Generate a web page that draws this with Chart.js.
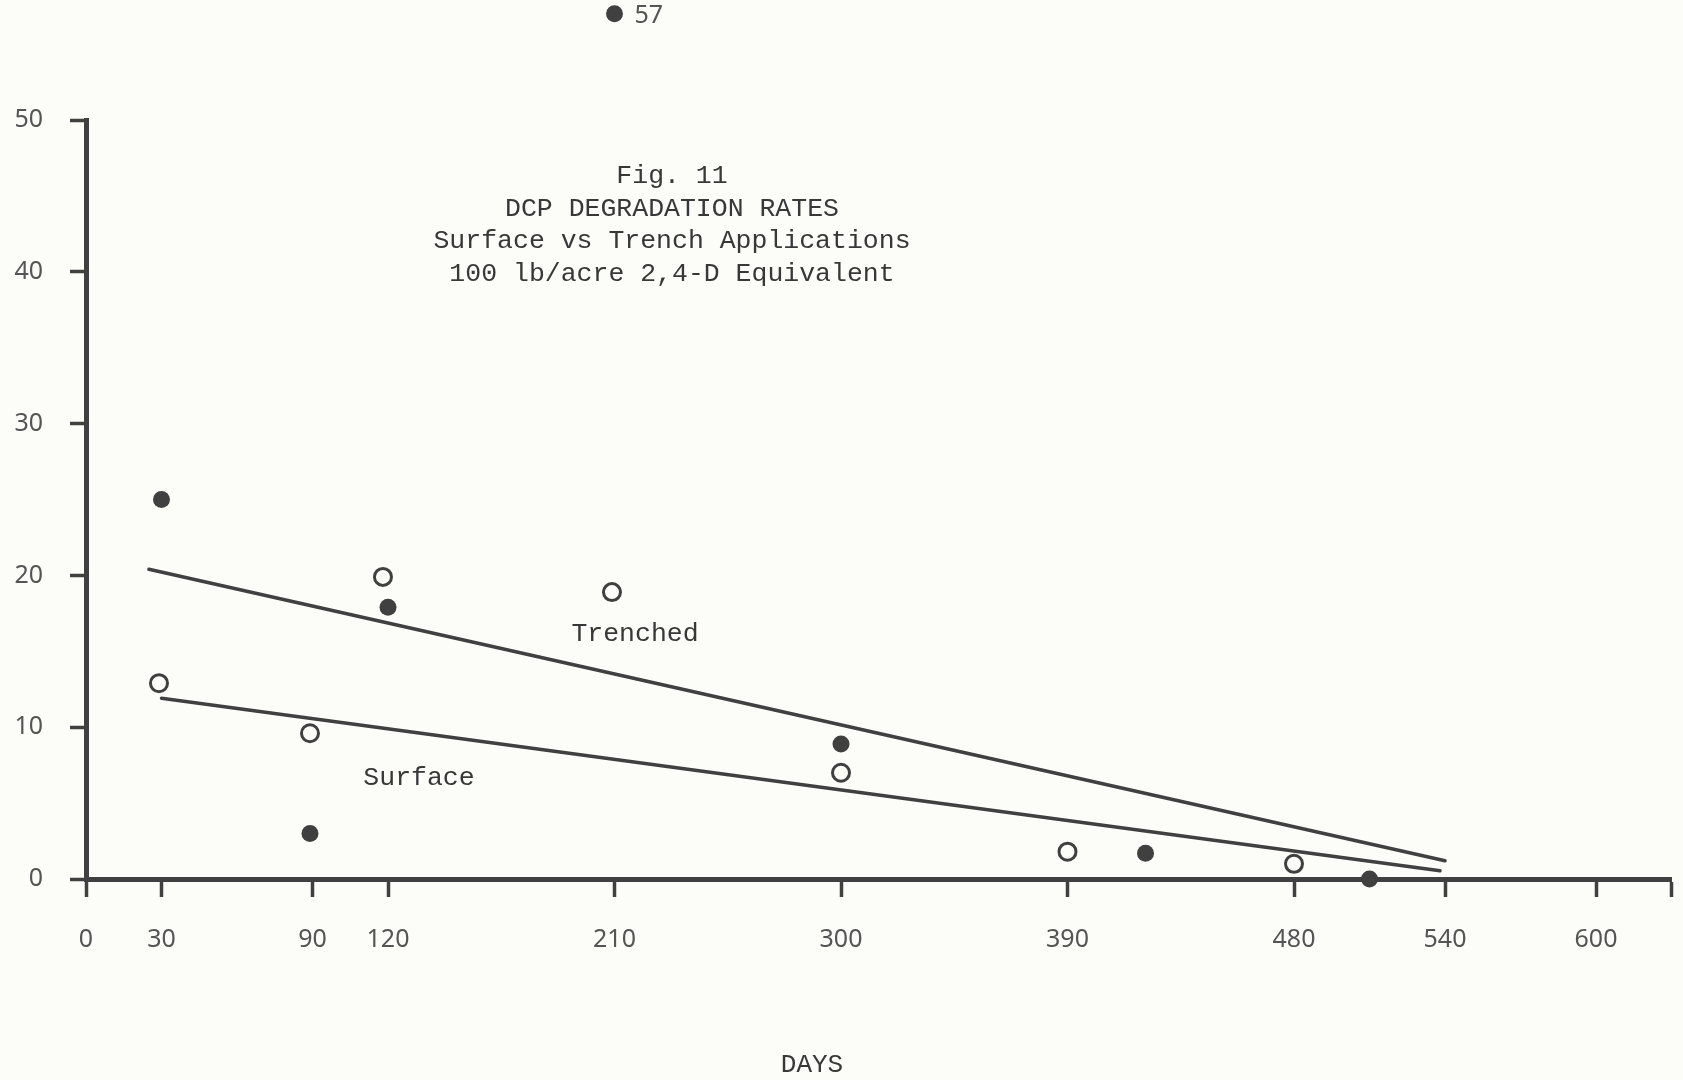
<!DOCTYPE html>
<html>
<head>
<meta charset="utf-8">
<title>Fig. 11 DCP Degradation Rates</title>
<script src="https://cdn.jsdelivr.net/npm/chart.js@4/dist/chart.umd.min.js"></script>
<style>
    html, body { margin: 0; padding: 0; background: #fcfcf8; }
    #wrap { width: 1683px; height: 1080px; position: relative; }
</style>
</head>
<body>
<div id="wrap"><canvas id="dcpChart" width="1683" height="1080"></canvas></div>
<script>
// open circles
const openDays = [29, 89, 118, 209, 300, 390, 480];
const openValues = [12.9, 9.6, 19.9, 18.9, 7.0, 1.8, 1.0];

// filled circles (57 sits above the top of the axis)
const filledDays = [30, 89, 120, 210, 300, 421, 510];
const filledValues = [25.0, 3.0, 17.9, 57, 8.9, 1.7, 0.0];

// hand drawn fit lines
const trenchedDays = [25, 540];
const trenchedValues = [20.4, 1.2];
const surfaceDays = [30, 538];
const surfaceValues = [11.9, 0.55];

const xTickValues = [0, 30, 90, 120, 210, 300, 390, 480, 540, 600, 630];
const xTickLabels = ["0", "30", "90", "120", "210", "300", "390", "480", "540", "600", ""];
const yTickValues = [0, 10, 20, 30, 40, 50];

const titleLines = ["Fig. 11", "DCP DEGRADATION RATES", "Surface vs Trench Applications", "100 lb/acre 2,4-D Equivalent"];

const INK = "#404040";
const TYPE = "#383838";
const LABEL = "#555555";
const MONO = "'Liberation Mono', 'DejaVu Sans Mono', monospace";
const SANS = "'Noto Sans', sans-serif";

function toPoints(xs, ys) {
    return xs.map((x, i) => ({ x: x, y: ys[i] }));
}

// titles, curve labels, axis caption and the off-scale point
const textPlugin = {
    id: "figureText",
    afterDatasetsDraw(chart) {
        const ctx = chart.ctx;
        ctx.save();
        ctx.fillStyle = TYPE;
        ctx.textAlign = "center";
        ctx.textBaseline = "middle";
        ctx.font = "26.5px " + MONO;
        titleLines.forEach((t, i) => ctx.fillText(t, 672, 176 + i * 32.7));
        ctx.fillText("Trenched", 635, 634);
        ctx.fillText("Surface", 419, 778);
        ctx.font = "26px " + MONO;
        ctx.fillText("DAYS", 812, 1065);

        // points above the axis top get skipped by the library, draw them here
        const meta = chart.getDatasetMeta(1);
        const page = { left: 0, top: 0, right: chart.width, bottom: chart.height };
        filledValues.forEach((v, i) => {
            if (v <= chart.scales.y.max) return;
            const pt = meta.data[i];
            pt.draw(ctx, page);
            ctx.font = "25px " + SANS;
            ctx.fillStyle = LABEL;
            ctx.textAlign = "left";
            ctx.fillText(String(v), pt.x + 20, pt.y + 2);
        });
        ctx.restore();
    }
};

new Chart(document.getElementById("dcpChart"), {
    type: "scatter",
    data: {
        datasets: [
            {
                label: "open",
                data: toPoints(openDays, openValues),
                pointStyle: "circle",
                pointRadius: 8.5,
                pointBorderWidth: 3,
                pointBackgroundColor: "#fcfcf8",
                pointBorderColor: INK,
                clip: false
            },
            {
                label: "filled",
                data: toPoints(filledDays, filledValues),
                pointStyle: "circle",
                pointRadius: 8.5,
                pointBorderWidth: 0,
                pointBackgroundColor: INK,
                pointBorderColor: INK,
                clip: false
            },
            {
                label: "Trenched",
                data: toPoints(trenchedDays, trenchedValues),
                showLine: true,
                pointRadius: 0,
                borderColor: INK,
                borderWidth: 3.5,
                borderCapStyle: "round"
            },
            {
                label: "Surface",
                data: toPoints(surfaceDays, surfaceValues),
                showLine: true,
                pointRadius: 0,
                borderColor: INK,
                borderWidth: 3.5,
                borderCapStyle: "round"
            }
        ]
    },
    options: {
        responsive: false,
        devicePixelRatio: 1,
        animation: false,
        layout: { padding: { top: 120, right: 11, left: 0, bottom: 0 } },
        plugins: {
            legend: { display: false },
            tooltip: { enabled: false }
        },
        scales: {
            x: {
                type: "linear",
                position: "bottom",
                min: 0,
                max: 630,
                afterBuildTicks: (scale) => { scale.ticks = xTickValues.map(v => ({ value: v })); },
                afterFit: (scale) => {
                    scale.height = 201;
                    scale.paddingLeft = 0;
                    scale.paddingRight = 0;
                },
                border: { display: true, color: INK, width: 5 },
                grid: { drawOnChartArea: false, drawTicks: true, tickLength: 18, tickWidth: 3.5, tickColor: INK },
                ticks: {
                    autoSkip: false,
                    maxRotation: 0,
                    padding: 28,
                    color: LABEL,
                    font: { family: SANS, size: 25 },
                    callback: (v) => xTickLabels[xTickValues.indexOf(v)] ?? ""
                }
            },
            y: {
                type: "linear",
                position: "left",
                min: 0,
                max: 50,
                afterBuildTicks: (scale) => { scale.ticks = yTickValues.map(v => ({ value: v })); },
                afterFit: (scale) => {
                    scale.width = 86;
                    scale.paddingTop = 0;
                    scale.paddingBottom = 0;
                },
                border: { display: true, color: INK, width: 5 },
                grid: { drawOnChartArea: false, drawTicks: true, tickLength: 16, tickWidth: 3.5, tickColor: INK },
                ticks: {
                    padding: 27,
                    color: LABEL,
                    font: { family: SANS, size: 25 }
                }
            }
        }
    },
    plugins: [textPlugin]
});
</script>
</body>
</html>
